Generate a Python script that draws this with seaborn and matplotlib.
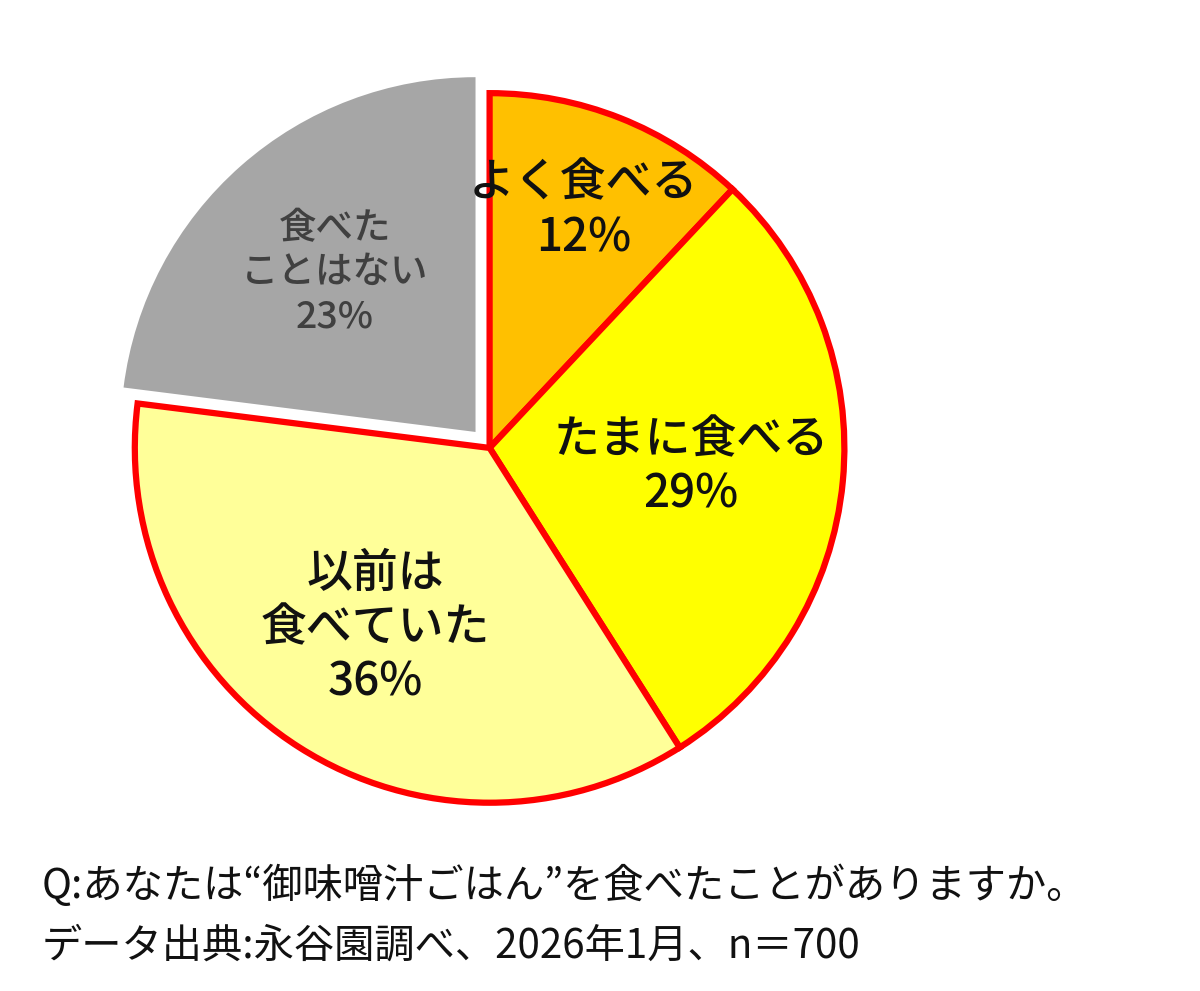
import numpy as np
import seaborn as sns
import matplotlib.pyplot as plt

sns.set_theme(style="white")
plt.rcParams['font.family'] = ['Noto Sans CJK JP', 'DejaVu Sans']

labels = ["よく食べる", "たまに食べる", "以前は\n食べていた", "食べた\nことはない"]
values = [12, 29, 36, 23]
colors = ["#FFC000", "#FFFF00", "#FFFF99", "#A6A6A6"]
explode = [0, 0, 0, 0.06]
label_r = [0.72, 0.57, 0.6, 0.6]
label_size = [33, 33, 33, 27]
label_color = ["#111111", "#111111", "#111111", "#404040"]

fig = plt.figure(figsize=(12, 9.91), dpi=100)
ax = fig.add_axes([0.112, 0.19, 0.592, 0.716])
wedges, _ = ax.pie(values, colors=colors, startangle=90, counterclock=False,
                   explode=explode,
                   wedgeprops=dict(edgecolor="#FF0000", linewidth=4.5))
wedges[3].set_edgecolor("none")
for w in wedges:
    w.set_clip_on(False)
ax.set_xlim(-1, 1)
ax.set_ylim(-1, 1)
ax.set_aspect("equal")

for w, lab, v, r, fs, c, ex in zip(wedges, labels, values, label_r, label_size, label_color, explode):
    theta = np.deg2rad((w.theta1 + w.theta2) / 2)
    rr = r + ex
    ax.text(rr * np.cos(theta), rr * np.sin(theta), f"{lab}\n{v}%",
            ha="center", va="center", fontsize=fs, color=c, linespacing=1.2,
            fontweight="medium")

fig.text(0.035, 0.085, "Q:あなたは“御味噌汁ごはん”を食べたことがありますか。",
         fontsize=29, color="#111111", va="bottom")
fig.text(0.035, 0.025, "データ出典:永谷園調べ、2026年1月、n＝700",
         fontsize=29, color="#111111", va="bottom")

fig.savefig("out.png", dpi=100)
